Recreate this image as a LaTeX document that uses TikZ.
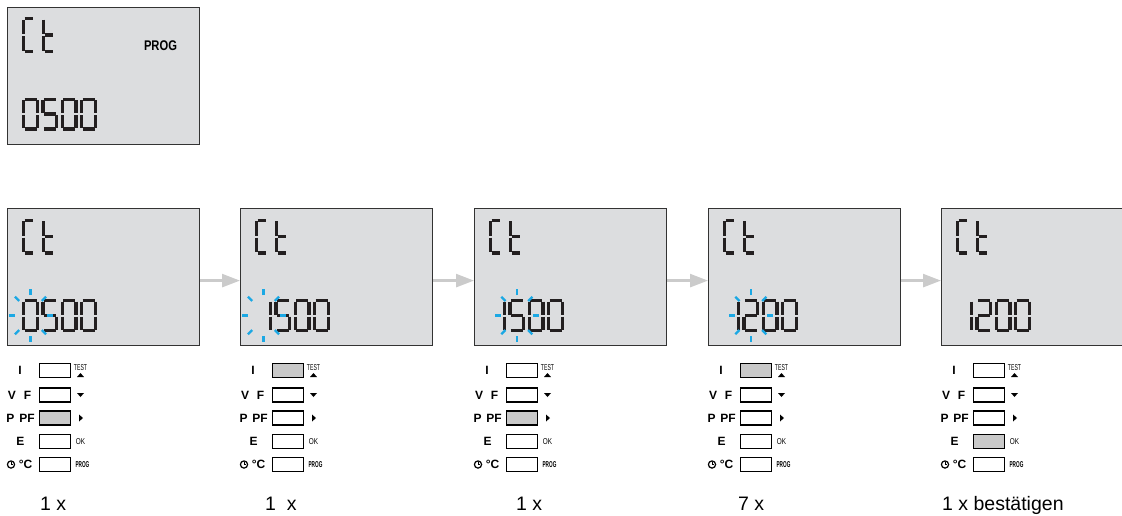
\documentclass[tikz,border=0pt]{standalone}
\usepackage{fontspec}
\setmainfont{Liberation Sans}
\usetikzlibrary{arrows.meta,positioning}

\definecolor{lcdgray}{HTML}{DCDDDF}
\definecolor{segdark}{HTML}{231F20}
\definecolor{blinkblue}{HTML}{1BA8E4}
\definecolor{arrowgray}{HTML}{CBCBCB}
\definecolor{keygray}{HTML}{C9C9C9}

% seven segment pieces, cell \cw x \ch (y runs down)
\newcommand\segA{\draw[segline] (2.5,1.6) -- ({\cw-2.5},1.6);}
\newcommand\segB{\draw[segline] ({\cw-1.6},2.5) -- ({\cw-1.6},{\ch/2-1});}
\newcommand\segC{\draw[segline] ({\cw-1.6},{\ch/2+1}) -- ({\cw-1.6},{\ch-2.5});}
\newcommand\segD{\draw[segline] (2.5,{\ch-1.6}) -- ({\cw-2.5},{\ch-1.6});}
\newcommand\segE{\draw[segline] (1.6,{\ch/2+1}) -- (1.6,{\ch-2.5});}
\newcommand\segF{\draw[segline] (1.6,2.5) -- (1.6,{\ch/2-1});}
\newcommand\segG{\draw[segline] (2.5,{\ch/2}) -- ({\cw-2.5},{\ch/2});}
\def\chC{A,F,E,D}
\def\cht{F,E,G,D}
\def\dzero{A,B,C,D,E,F}
\def\done{B,C}
\def\dtwo{A,B,G,E,D}
\def\dfive{A,F,G,C,D}

\newcommand\lcdchar[4]{% position, width, height, segments
  \begin{scope}[shift={#1}]
    \def\cw{#2}\def\ch{#3}\edef\seglist{#4}
    \foreach \s in \seglist {\csname seg\s\endcsname}
  \end{scope}}

% Ct and four digits inside a display whose corner is (#1,#2)
\newcommand\lcdtext[6]{%
  \lcdchar{(#1+15,#2+10.5)}{13}{36}{\chC}
  \lcdchar{(#1+35,#2+10.5)}{13}{36}{\cht}
  \lcdchar{(#1+15,#2+91)}{17}{33}{#3}
  \lcdchar{(#1+34.3,#2+91)}{17}{33}{#4}
  \lcdchar{(#1+53.6,#2+91)}{17}{33}{#5}
  \lcdchar{(#1+73,#2+91)}{17}{33}{#6}}

% blinking marks round a digit
\newcommand\blink[1]{%
  \begin{scope}[shift={#1}]
    \foreach \a in {0,45,...,315}
      \draw[ray] ({16*cos(\a)},{20.5*sin(\a)}) -- ({22*cos(\a)},{26.5*sin(\a)});
  \end{scope}}

\tikzset{
  lcd/.style={draw=black!80, line width=1.2pt, fill=lcdgray, minimum width=192pt,
    minimum height=137pt, inner sep=0pt, anchor=north west},
  segline/.style={line width=3.2pt, segdark},
  ray/.style={line width=2.3pt, blinkblue},
  key/.style={draw=black, line width=1.3pt, minimum width=31pt, minimum height=14pt, inner sep=0pt},
  keylabel/.style={font=\fontsize{12}{12}\selectfont\bfseries, inner sep=0pt},
  tinytext/.style={font=\fontsize{8.5}{8.5}\selectfont, inner sep=0pt},
  flow/.style={arrowgray, line width=2.6pt, -{Triangle[length=18pt,width=13pt]}},
  stepnote/.style={font=\fontsize{19.5}{19.5}\selectfont, anchor=base west, inner sep=0pt}
}

\begin{document}
\begin{tikzpicture}[x=1pt,y=-1pt]
\useasboundingbox (0,0) rectangle (1122,515);
\clip (0,0) rectangle (1122,515);

% display shown before the steps
\node[lcd] (lcd0) at (7,7) {};
\lcdtext{7}{6.5}{\dzero}{\dfive}{\dzero}{\dzero}
\node[font=\fontsize{14}{14}\selectfont\bfseries, inner sep=0pt] (prog0) at (160.5,45.5)
  {\scalebox{0.8}[1]{PROG}};

% the five steps
\foreach \i/\bx/\hit/\note/\nx in {1/7/3/{1 x}/33, 2/240/1/{1\ \ x}/25, 3/474/3/{1 x}/42,
    4/708/1/{7 x}/30, 5/941/4/{1 x bestätigen}/1} {
  \node[lcd] (lcd\i) at (\bx,208) {};
  % keys
  \foreach \r/\ry in {1/162.5, 2/187, 3/210, 4/233.5, 5/256.5} {
    \ifnum\r=\hit \def\kf{keygray}\else\def\kf{white}\fi
    \node[key, fill=\kf] (key\i-\r) at (\bx+48,208+\ry) {};
  }
  % key names
  \node[keylabel] (nI\i) at (\bx+13,208+162.5) {I};
  \node[keylabel] (nV\i) at (\bx+5,208+187) {V};
  \node[keylabel] (nF\i) at (\bx+20.5,208+187) {F};
  \node[keylabel] (nP\i) at (\bx+3.5,208+210) {P};
  \node[keylabel] (nPF\i) at (\bx+20,208+210) {PF};
  \node[keylabel] (nE\i) at (\bx+13.5,208+233.5) {E};
  \node[keylabel] (nC\i) at (\bx+18.5,208+256.5) {°C};
  \draw[line width=1.2pt] (\bx+4,208+256.5) circle (3.6);
  \draw[line width=1pt] (\bx+4,208+254) -- (\bx+4,208+256.5) -- (\bx+6,208+256.5);
  % key functions
  \node[tinytext] (test\i) at (\bx+73.5,208+159.5) {\scalebox{0.6}[1]{TEST}};
  \fill (\bx+70,208+169) -- (\bx+77,208+169) -- (\bx+73.5,208+165) -- cycle;
  \fill (\bx+70,208+185) -- (\bx+77,208+185) -- (\bx+73.5,208+189) -- cycle;
  \fill (\bx+72,208+206.5) -- (\bx+72,208+213.5) -- (\bx+76,208+210) -- cycle;
  \node[tinytext] (ok\i) at (\bx+73.5,208+233.5) {\scalebox{0.75}[1]{OK}};
  \node[tinytext] (prog\i) at (\bx+75.5,208+257) {\bfseries\scalebox{0.55}[1]{PROG}};
  % how often to press
  \node[stepnote] (note\i) at (\bx+\nx,510) {\note};
}

% display contents
\lcdtext{7}{208}{\dzero}{\dfive}{\dzero}{\dzero}
\lcdtext{240}{208}{\done}{\dfive}{\dzero}{\dzero}
\lcdtext{474}{208}{\done}{\dfive}{\dzero}{\dzero}
\lcdtext{708}{208}{\done}{\dtwo}{\dzero}{\dzero}
\lcdtext{941}{208}{\done}{\dtwo}{\dzero}{\dzero}
\blink{(7+23.5,208+107.5)}
\blink{(240+23.5,208+107.5)}
\blink{(474+42.8,208+107.5)}
\blink{(708+42.8,208+107.5)}

% steps
\foreach \i/\j in {1/2,2/3,3/4,4/5}
  \draw[flow] ([yshift=-3.5pt]lcd\i.east) -- ([yshift=-3.5pt]lcd\j.west);
\end{tikzpicture}
\end{document}
